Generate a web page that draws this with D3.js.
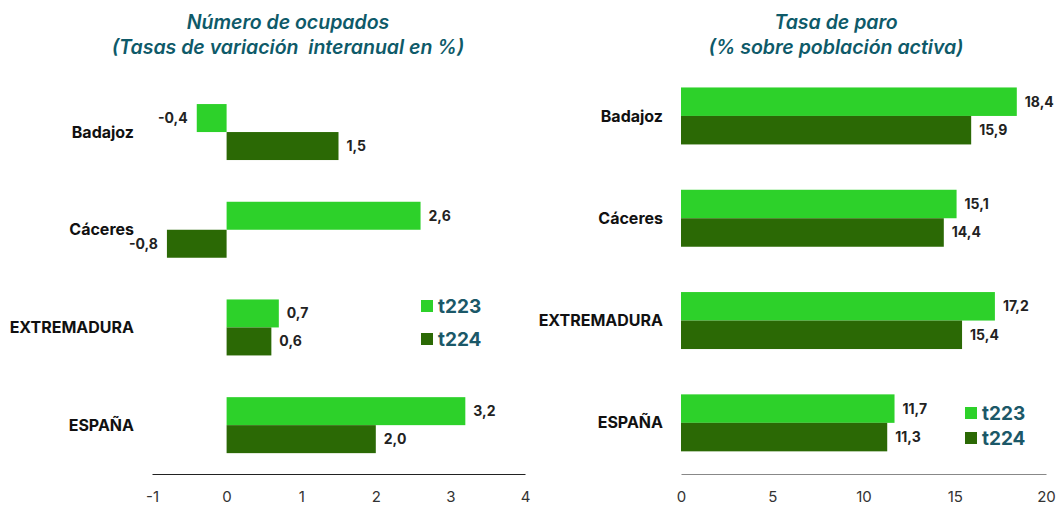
<!DOCTYPE html>
<html><head><meta charset="utf-8">
<script src="https://cdn.jsdelivr.net/npm/d3@7"></script>
<style>body{margin:0;background:#fff}svg{display:block}</style>
</head><body>
<svg id="c" width="1059" height="506"></svg>
<script>
const categories = ["Badajoz", "Cáceres", "EXTREMADURA", "ESPAÑA"];
const seriesNames = ["t223", "t224"];
const ocupadosT223 = [-0.4, 2.6, 0.7, 3.2];
const ocupadosT224 = [1.5, -0.8, 0.6, 2.0];
const paroT223 = [18.4, 15.1, 17.2, 11.7];
const paroT224 = [15.9, 14.4, 15.4, 11.3];
const ticksLeft = [-1, 0, 1, 2, 3, 4];
const ticksRight = [0, 5, 10, 15, 20];
const colors = {t223: "#2dd12a", t224: "#2b6905"};
const titleColor = "#0e5a69";
const FONT = "Inter, 'Open Sans', sans-serif";

const svg = d3.select("#c");
const fmt = v => d3.format(".1f")(v).replace(".", ",").replace("−", "-");

function panel(cfg) {
  const g = svg.append("g");
  const x = d3.scaleLinear().domain(cfg.domain).range(cfg.xRange);
  const y = d3.scaleBand().domain(categories).range(cfg.yRange)
    .paddingInner(cfg.pad).paddingOuter(cfg.pad / 2);
  const ys = d3.scaleBand().domain(seriesNames).range([0, y.bandwidth()]);
  const rows = categories.map((c, i) => ({c, vals: [cfg.a[i], cfg.b[i]]}));

  cfg.title.forEach((t, i) => {
    g.append("text").attr("x", cfg.titleX).attr("y", 29 + i * 25)
      .attr("text-anchor", "middle").attr("font-family", FONT)
      .attr("font-style", "italic").attr("font-weight", 600)
      .attr("font-size", 19.5).attr("fill", titleColor)
      .style("white-space", "pre").text(t);
  });

  const ax = g.append("g").attr("transform", `translate(0,${cfg.axisY})`)
    .call(d3.axisBottom(x).tickValues(cfg.ticks).tickSize(0).tickPadding(17)
      .tickFormat(d => d3.format("d")(d).replace("−", "-")));
  ax.select(".domain").attr("stroke", cfg.axisColor).attr("stroke-width", 1.2);
  ax.selectAll("text").attr("font-family", FONT).attr("font-size", 15)
    .attr("font-weight", 400).attr("fill", "#333");

  rows.forEach(r => {
    const gy = y(r.c);
    seriesNames.forEach((s, j) => {
      const v = r.vals[j];
      const x0 = x(Math.min(0, v)), x1 = x(Math.max(0, v));
      const by = gy + ys(s);
      g.append("rect").attr("x", x0).attr("y", by)
        .attr("width", x1 - x0).attr("height", ys.bandwidth())
        .attr("fill", colors[s]);
      g.append("text")
        .attr("x", v < 0 ? x0 - 9 : x1 + 8)
        .attr("y", by + ys.bandwidth() / 2)
        .attr("dy", "0.35em")
        .attr("text-anchor", v < 0 ? "end" : "start")
        .attr("font-family", FONT).attr("font-weight", 700)
        .attr("font-size", 14).attr("fill", "#222").text(fmt(v));
    });
    g.append("text").attr("x", cfg.labelX).attr("y", gy + y.bandwidth() / 2)
      .attr("dy", "0.35em").attr("text-anchor", "end")
      .attr("font-family", FONT).attr("font-weight", 700)
      .attr("font-size", 16).attr("fill", "#111").text(r.c);
  });

  seriesNames.forEach((s, j) => {
    const ly = cfg.legendY + j * cfg.legendStep;
    g.append("rect").attr("x", cfg.legendX).attr("y", ly - 6)
      .attr("width", 12).attr("height", 12).attr("fill", colors[s]);
    g.append("text").attr("x", cfg.legendX + 17).attr("y", ly)
      .attr("dy", "0.35em").attr("font-family", FONT).attr("font-weight", 700)
      .attr("font-size", 19).attr("fill", "#1b5868").text(s);
  });
}

panel({
  domain: [-1, 4], xRange: [152, 525], yRange: [83.2, 474], pad: 0.427,
  a: ocupadosT223, b: ocupadosT224, ticks: ticksLeft, axisY: 474,
  axisColor: "#222", labelX: 134, titleX: 288,
  title: ["Número de ocupados", "(Tasas de variación  interanual en %)"],
  legendX: 421, legendY: 306, legendStep: 33
});
panel({
  domain: [0, 20], xRange: [681, 1046], yRange: [64.8, 474], pad: 0.443,
  a: paroT223, b: paroT224, ticks: ticksRight, axisY: 474,
  axisColor: "#888", labelX: 663, titleX: 836,
  title: ["Tasa de paro", "(% sobre población activa)"],
  legendX: 965, legendY: 413, legendStep: 25
});
</script>
</body></html>
